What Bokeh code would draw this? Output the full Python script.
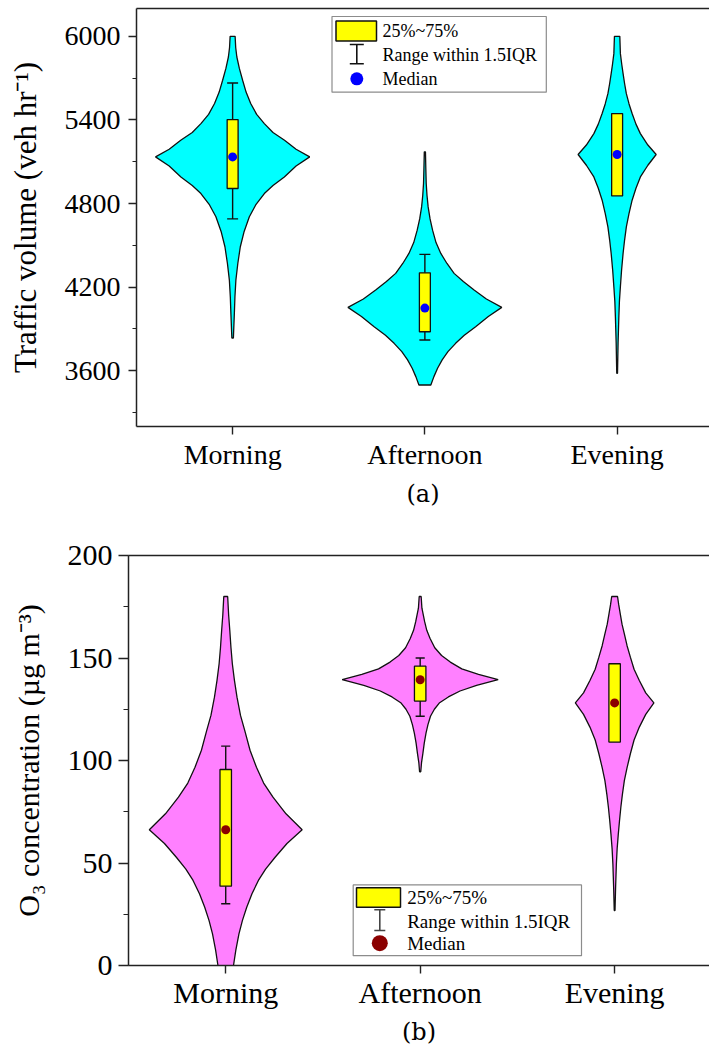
from bokeh.plotting import figure
from bokeh.models import LinearAxis, FixedTicker, SingleIntervalTicker, Range1d
from bokeh.embed import file_html
from bokeh.resources import INLINE
from bokeh.core.properties import value

# ---------------- data ----------------
categories = ["Morning", "Afternoon", "Evening"]
cat_pos = [1, 2, 3]

# (a) Traffic volume: violin profiles (value, half-width in category units)
tv_morning_v = [3835, 4012, 4130, 4251, 4370, 4490, 4600, 4705, 4790, 4872, 4930, 4991, 5070,
                5135, 5190, 5255, 5310, 5374, 5440, 5518, 5600, 5685, 5770, 5852, 5920, 6000]
tv_morning_hw = [0.004, 0.009, 0.012, 0.017, 0.027, 0.040, 0.060, 0.087, 0.120, 0.165, 0.210, 0.269, 0.330,
                 0.401, 0.330, 0.270, 0.210, 0.165, 0.125, 0.094, 0.070, 0.052, 0.035, 0.022, 0.016, 0.013]
tv_afternoon_v = [3498, 3558, 3618, 3678, 3737, 3797, 3855, 3916, 3990, 4055, 4115, 4179,
                  4240, 4299, 4370, 4442, 4520, 4609, 4690, 4776, 4860, 4944, 5050, 5171]
tv_afternoon_hw = [0.031, 0.047, 0.066, 0.090, 0.120, 0.160, 0.205, 0.264, 0.330, 0.400, 0.320, 0.256,
                   0.200, 0.152, 0.115, 0.083, 0.058, 0.040, 0.027, 0.017, 0.011, 0.007, 0.005, 0.003]
tv_evening_v = [3582, 3800, 3988, 4100, 4203, 4320, 4442, 4540, 4633, 4730, 4824, 4910, 4991,
                5075, 5152, 5220, 5302, 5370, 5446, 5515, 5589, 5660, 5733, 5800, 5876, 6000]
tv_evening_hw = [0.002, 0.005, 0.009, 0.012, 0.017, 0.023, 0.031, 0.039, 0.048, 0.062, 0.078, 0.098, 0.121,
                 0.160, 0.203, 0.160, 0.121, 0.098, 0.078, 0.062, 0.048, 0.039, 0.031, 0.024, 0.017, 0.014]
tv_q1 = [4908, 3880, 4855]
tv_q3 = [5403, 4303, 5446]
tv_median = [5135, 4050, 5152]
tv_whisk_lo = [4690, 3821, None]
tv_whisk_hi = [5665, 4435, None]
tv_ticks = [3600, 4200, 4800, 5400, 6000]

# (b) O3 concentration
o3_morning_v = [-8, 0, 7.5, 15.4, 22, 28.4, 35, 41.5, 47, 52.8, 59.5, 66.2, 74, 82.1, 89, 96.7,
                105, 114.6, 122, 130.9, 139, 147.2, 155, 163.4, 171, 180]
o3_morning_hw = [0.030, 0.040, 0.052, 0.068, 0.086, 0.108, 0.135, 0.168, 0.205, 0.254, 0.315, 0.393, 0.310,
                 0.243, 0.195, 0.158, 0.125, 0.098, 0.076, 0.058, 0.045, 0.034, 0.027, 0.021, 0.015, 0.010]
o3_afternoon_v = [94.5, 99, 103.5, 108.5, 113.4, 117.5, 121.6, 125, 128.2, 131, 133.9, 136.7,
                  139.4, 142, 144.7, 148, 151.2, 155, 159.5, 163.5, 167.7, 174.3, 180]
o3_afternoon_hw = [0.003, 0.007, 0.014, 0.021, 0.030, 0.040, 0.053, 0.073, 0.100, 0.145, 0.205, 0.290,
                   0.401, 0.300, 0.214, 0.155, 0.110, 0.075, 0.051, 0.034, 0.023, 0.009, 0.005]
o3_evening_v = [26.8, 38, 49.6, 57, 64.2, 70.5, 77.2, 83.5, 90.2, 96.5, 103.3, 110, 116.3, 122.5,
                128.1, 133, 139, 144.5, 150.4, 156, 161.8, 166.5, 171.5, 176, 180]
o3_evening_hw = [0.002, 0.005, 0.009, 0.013, 0.019, 0.025, 0.032, 0.040, 0.050, 0.064, 0.081, 0.100, 0.127,
                 0.160, 0.202, 0.160, 0.127, 0.100, 0.081, 0.064, 0.050, 0.038, 0.029, 0.021, 0.015]
o3_q1 = [38.7, 129.0, 109.0]
o3_q3 = [95.6, 146.0, 147.2]
o3_median = [66.2, 139.4, 128.1]
o3_whisk_lo = [30.1, 121.6, None]
o3_whisk_hi = [107.0, 150.0, None]
o3_ticks = [0, 50, 100, 150, 200]

legend_labels = ["25%~75%", "Range within 1.5IQR", "Median"]

FONT = "Liberation Serif"
PAGE_W = 709
PAGE_X0, PAGE_Y0 = 0, 0   # bokeh's page template has no body margin


def make_fig(height, frame_left, frame_top, frame_bottom_border, x_end, y0, y1, interval,
             ylabel, caption, tick_font, ylabel_font, ytick_out, yminor_out, ylab_standoff,
             ytick_standoff, xlab_standoff, cap_standoff):
    p = figure(width=PAGE_W, height=height, output_backend="svg", toolbar_location=None,
               x_range=Range1d(0.5, x_end), y_range=Range1d(y0, y1),
               min_border_left=frame_left, min_border_right=0, min_border_top=frame_top,
               min_border_bottom=frame_bottom_border)
    p.grid.visible = False
    p.outline_line_color = None
    p.background_fill_color = "white"
    # x axis
    xa = p.xaxis[0]
    xa.ticker = FixedTicker(ticks=cat_pos)
    xa.major_label_overrides = {c: lab for c, lab in zip(cat_pos, categories)}
    xa.major_tick_out = 8
    xa.major_tick_in = 0
    xa.major_label_standoff = xlab_standoff
    xa.major_label_text_font = FONT
    xa.major_label_text_font_size = tick_font
    xa.major_label_text_color = "#000000"
    xa.axis_label = caption
    xa.axis_label_text_font = "DejaVu Serif"
    xa.axis_label_text_font_size = "24px"
    xa.axis_label_text_font_style = "normal"
    xa.axis_label_text_color = "#000000"
    xa.axis_label_standoff = cap_standoff
    # y axis
    ya = p.yaxis[0]
    ya.ticker = SingleIntervalTicker(interval=interval, num_minor_ticks=2)
    ya.major_tick_out = ytick_out
    ya.major_tick_in = 0
    ya.minor_tick_out = yminor_out
    ya.minor_tick_in = 0
    ya.major_label_standoff = ytick_standoff
    ya.major_label_text_font = FONT
    ya.major_label_text_font_size = tick_font
    ya.major_label_text_color = "#000000"
    ya.axis_label = ylabel
    ya.axis_label_text_font = FONT
    ya.axis_label_text_font_size = ylabel_font
    ya.axis_label_text_font_style = "normal"
    ya.axis_label_text_color = "#000000"
    ya.axis_label_standoff = ylab_standoff
    for ax in (xa, ya):
        ax.axis_line_color = "#222222"
        ax.axis_line_width = 1.5
        ax.major_tick_line_color = "#222222"
        ax.major_tick_line_width = 1.4
        ax.minor_tick_line_width = 1.2
    xa.minor_tick_line_color = None
    ya.minor_tick_line_color = "#222222"
    top = LinearAxis(ticker=FixedTicker(ticks=[]), axis_line_color="#222222", axis_line_width=1.5,
                     major_tick_line_color=None, minor_tick_line_color=None,
                     major_label_text_font_size="0px")
    p.add_layout(top, "above")
    return p


def draw_violins(p, profiles, color, q1, q3, med, wlo, whi, box_w, cap_w, dot_color, dot_size):
    for c, (vals, hws) in zip(cat_pos, profiles):
        xs = [c - h for h in hws] + [c + h for h in reversed(hws)]
        ys = list(vals) + list(reversed(vals))
        p.patch(xs, ys, fill_color=color, line_color="#111111", line_width=1.3)
    for c, lo, hi in zip(cat_pos, wlo, whi):
        if lo is None:
            continue
        p.segment(x0=[c, c - cap_w / 2, c - cap_w / 2], y0=[lo, lo, hi],
                  x1=[c, c + cap_w / 2, c + cap_w / 2], y1=[hi, lo, hi],
                  line_color="#111111", line_width=1.4)
    p.quad(left=[c - box_w / 2 for c in cat_pos], right=[c + box_w / 2 for c in cat_pos],
           bottom=q1, top=q3, fill_color="#FFFF00", line_color="#111111", line_width=1.3)
    p.scatter(cat_pos, med, size=dot_size, marker="circle", fill_color=dot_color, line_color=None)


def draw_legend(p, fx, fy, box, swatch, whisk, dot, text_x, text_ys, font_size, whisk_color,
                whisk_cap, dot_color, dot_size):
    # fx, fy map page pixel coordinates to data coordinates of this figure
    p.quad(left=[fx(box[0])], right=[fx(box[1])], top=[fy(box[2])], bottom=[fy(box[3])],
           fill_color="white", line_color="#8c8c8c", line_width=1.2)
    p.quad(left=[fx(swatch[0])], right=[fx(swatch[1])], top=[fy(swatch[2])], bottom=[fy(swatch[3])],
           fill_color="#FFFF00", line_color="#111111", line_width=1.5)
    wx, wy0, wy1 = whisk
    p.segment(x0=[fx(wx), fx(wx - whisk_cap), fx(wx - whisk_cap)], y0=[fy(wy0), fy(wy0), fy(wy1)],
              x1=[fx(wx), fx(wx + whisk_cap), fx(wx + whisk_cap)], y1=[fy(wy1), fy(wy0), fy(wy1)],
              line_color=whisk_color, line_width=1.6)
    p.scatter([fx(dot[0])], [fy(dot[1])], size=dot_size, marker="circle",
              fill_color=dot_color, line_color=None)
    p.text(x=[fx(text_x)] * 3, y=[fy(v) for v in text_ys], text=legend_labels,
           text_font=value(FONT), text_font_size=value(font_size), text_color="#000000",
           text_align="left", text_baseline="middle")


# ---------------- panel (a) ----------------
A_H = 520
A_LEFT, A_TOP, A_BOT = 136, 8, 94
A_SCALE = 192.25
A_XEND = 0.5 + (PAGE_W - A_LEFT) / A_SCALE
A_Y0, A_Y1 = 3200, 6200
pa = make_fig(A_H, A_LEFT, A_TOP, A_BOT, A_XEND, A_Y0, A_Y1, 600,
              "Traffic volume (veh hr\u207b\u00b9)", "(a)", "28px", "31px", 8, 4, 19, 8, 4, 7)
draw_violins(pa, [(tv_morning_v, tv_morning_hw), (tv_afternoon_v, tv_afternoon_hw),
                  (tv_evening_v, tv_evening_hw)], "#00FFFF",
             tv_q1, tv_q3, tv_median, tv_whisk_lo, tv_whisk_hi, 0.057, 0.057, "#0000FF", 9)

a_frame_left_page = PAGE_X0 + A_LEFT
a_frame_top_page = PAGE_Y0 + A_TOP
a_frame_h = A_H - A_TOP - A_BOT


def fxa(px):
    return 0.5 + (px - a_frame_left_page) / A_SCALE


def fya(py):
    return A_Y1 - (py - a_frame_top_page) / a_frame_h * (A_Y1 - A_Y0)


draw_legend(pa, fxa, fya, box=(331.5, 545.8, 16, 91.7), swatch=(335.5, 376, 20.5, 40.5),
            whisk=(356.3, 44, 63.3), dot=(356.3, 78.3), text_x=382,
            text_ys=[30.7, 54.3, 78.3], font_size="18px", whisk_color="#111111", whisk_cap=7,
            dot_color="#0000FF", dot_size=13)

# ---------------- panel (b) ----------------
B_H = 529
B_LEFT, B_TOP, B_BOT = 128, 35, 84
B_SCALE = 194.45
B_XEND = 0.5 + (PAGE_W - B_LEFT) / B_SCALE
B_Y0, B_Y1 = 0, 200
pb = make_fig(B_H, B_LEFT, B_TOP, B_BOT, B_XEND, B_Y0, B_Y1, 50,
              "O\u2083 concentration (\u00b5g m\u207b\u00b3)", "(b)", "30px", "30px", 10, 5, 20, 6, 2, 6)
draw_violins(pb, [(o3_morning_v, o3_morning_hw), (o3_afternoon_v, o3_afternoon_hw),
                  (o3_evening_v, o3_evening_hw)], "#FF80FF",
             o3_q1, o3_q3, o3_median, o3_whisk_lo, o3_whisk_hi, 0.059, 0.047, "#8B0000", 9)

b_fig_top_page = PAGE_Y0 + A_H
b_frame_left_page = PAGE_X0 + B_LEFT
b_frame_top_page = b_fig_top_page + B_TOP
b_frame_h = B_H - B_TOP - B_BOT


def fxb(px):
    return 0.5 + (px - b_frame_left_page) / B_SCALE


def fyb(py):
    return B_Y1 - (py - b_frame_top_page) / b_frame_h * (B_Y1 - B_Y0)


draw_legend(pb, fxb, fyb, box=(352.7, 581, 884.4, 955.2), swatch=(356, 400, 887.3, 906.7),
            whisk=(379.3, 909.3, 930), dot=(379.3, 942.7), text_x=406.7,
            text_ys=[896.7, 921, 942.7], font_size="19px", whisk_color="#444444", whisk_cap=5.5,
            dot_color="#8B0000", dot_size=16)

# two independent roots stacked on the page (no frame alignment between them)
open("out.html", "w").write(file_html([pa, pb], INLINE))
